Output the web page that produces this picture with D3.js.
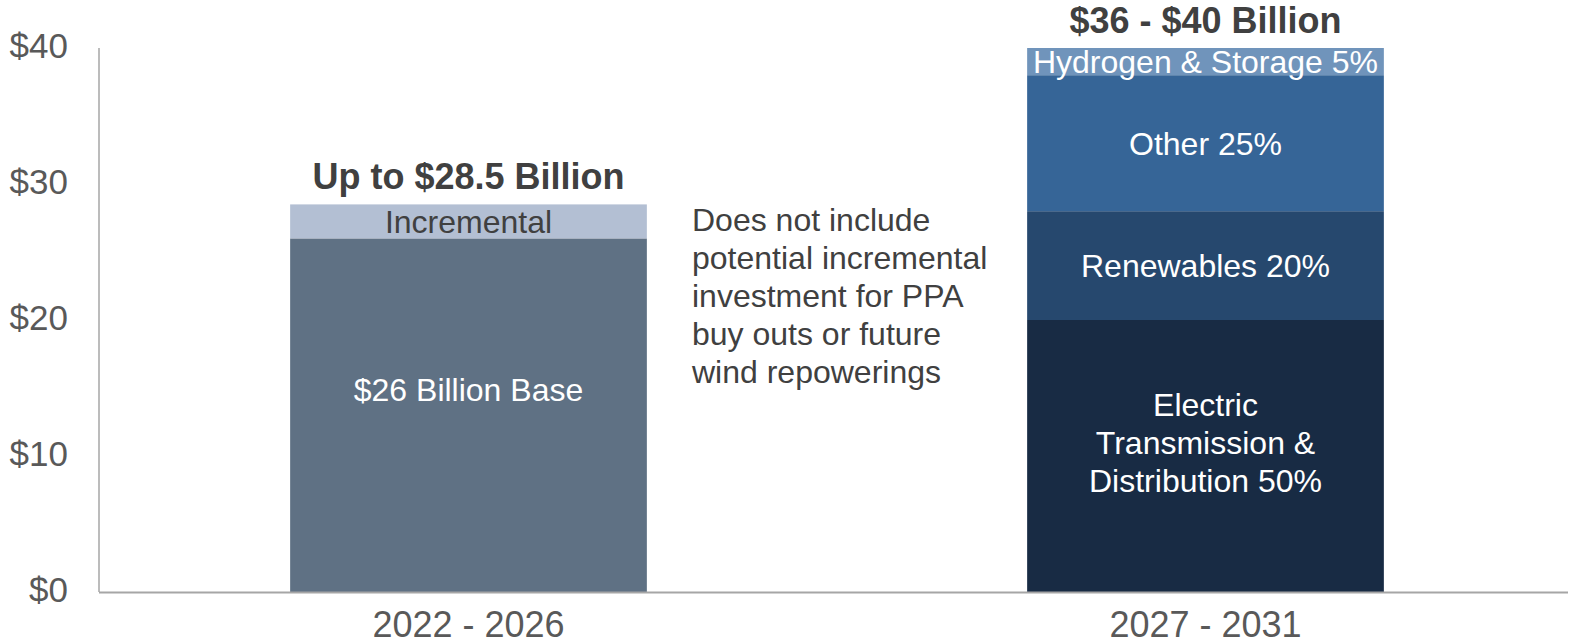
<!DOCTYPE html>
<html>
<head>
<meta charset="utf-8">
<script src="https://cdn.jsdelivr.net/npm/d3@7"></script>
<style>
  html, body { margin: 0; padding: 0; background: #fff; }
  svg { display: block; font-family: "Liberation Sans", Arial, sans-serif; }
</style>
</head>
<body>
<svg id="chart" width="1574" height="644"></svg>
<script>
// Capital plan periods
const categories = ["2022 - 2026", "2027 - 2031"];
const periodTitles = ["Up to $28.5 Billion", "$36 - $40 Billion"];

// 2022 - 2026: base plan plus incremental upside ($ billions)
const earlyBase = 26;
const earlyTotal = 28.5;

// 2027 - 2031: $40 billion upper range split by investment share (%)
const laterTotal = 40;
const laterNames = ["Electric Transmission & Distribution", "Renewables", "Other", "Hydrogen & Storage"];
const laterShares = [50, 20, 25, 5];

// Axis ticks ($ billions)
const yTicks = [0, 10, 20, 30, 40];

const noteLines = [
  "Does not include",
  "potential incremental",
  "investment for PPA",
  "buy outs or future",
  "wind repowerings"
];

// Build stacked segments for each period
const segments = [
  { cat: categories[0], y0: 0, y1: earlyBase, fill: "#5f7184",
    lines: ["$" + earlyBase + " Billion Base"], color: "#ffffff", shift: -26 },
  { cat: categories[0], y0: earlyBase, y1: earlyTotal, fill: "#b3bfd3",
    lines: ["Incremental"], color: "#404040", shift: 0 }
];
const laterFills = ["#182b44", "#26486e", "#366597", "#7094bb"];
const laterLines = [
  ["Electric", "Transmission &", "Distribution 50%"],
  ["Renewables 20%"],
  ["Other 25%"],
  ["Hydrogen & Storage 5%"]
];
let acc = 0;
laterShares.forEach((s, i) => {
  const v = laterTotal * s / 100;
  segments.push({ cat: categories[1], y0: acc, y1: acc + v, fill: laterFills[i],
    lines: laterLines[i], color: "#ffffff", shift: i === 0 ? -14 : 0 });
  acc += v;
});
const periodTops = [earlyTotal, laterTotal];

const svg = d3.select("#chart");

const x = d3.scaleBand()
  .domain(categories)
  .range([100, 1574])
  .paddingInner(0.516)
  .paddingOuter(0.258);

const y = d3.scaleLinear().domain([0, 40]).range([592, 48]);

// Axes
const axisColor = "#a6a6a6";
svg.append("line")
  .attr("x1", 99).attr("x2", 99)
  .attr("y1", y(40)).attr("y2", y(0))
  .attr("stroke", axisColor).attr("stroke-width", 1.5);

const yAxis = d3.axisLeft(y).tickValues(yTicks).tickSize(0).tickPadding(31)
  .tickFormat(d => "$" + d);
const gy = svg.append("g").attr("transform", "translate(99,0)").call(yAxis);
gy.select(".domain").remove();
gy.selectAll("text")
  .attr("font-family", "'Liberation Sans', Arial, sans-serif")
  .attr("font-size", 35)
  .attr("fill", "#595959")
  .attr("dy", "0.28em");

// Bars
svg.append("g").selectAll("rect")
  .data(segments)
  .join("rect")
  .attr("x", d => x(d.cat))
  .attr("width", x.bandwidth())
  .attr("y", d => y(d.y1))
  .attr("height", d => y(d.y0) - y(d.y1))
  .attr("fill", d => d.fill);

// Baseline on top of bars
svg.append("line")
  .attr("x1", 99).attr("x2", 1568)
  .attr("y1", y(0) + 0.5).attr("y2", y(0) + 0.5)
  .attr("stroke", axisColor).attr("stroke-width", 2);

const xAxis = d3.axisBottom(x).tickSize(0).tickPadding(19);
const gx = svg.append("g").attr("transform", `translate(0,${y(0)})`).call(xAxis);
gx.select(".domain").remove();
gx.selectAll("text")
  .attr("font-family", "'Liberation Sans', Arial, sans-serif")
  .attr("font-size", 36)
  .attr("fill", "#595959");

// Segment labels
const fs = 32, lh = 38;
const lbl = svg.append("g").attr("font-size", fs).attr("text-anchor", "middle");
segments.forEach(d => {
  const cx = x(d.cat) + x.bandwidth() / 2;
  const mid = (y(d.y0) + y(d.y1)) / 2 + d.shift;
  const n = d.lines.length;
  const t = lbl.append("text").attr("fill", d.color);
  d.lines.forEach((line, i) => {
    t.append("tspan")
      .attr("x", cx)
      .attr("y", mid + (i - (n - 1) / 2) * lh + fs * 0.36)
      .text(line);
  });
});

// Period totals above each bar
svg.append("g").selectAll("text")
  .data(categories)
  .join("text")
  .attr("x", d => x(d) + x.bandwidth() / 2)
  .attr("y", (d, i) => y(periodTops[i]) - 15)
  .attr("text-anchor", "middle")
  .attr("font-size", 36)
  .attr("font-weight", "bold")
  .attr("fill", "#404040")
  .text((d, i) => periodTitles[i]);

// Side note between the bars
const note = svg.append("text")
  .attr("font-size", 32)
  .attr("fill", "#404040");
noteLines.forEach((line, i) => {
  note.append("tspan").attr("x", 692).attr("y", 231 + i * 38).text(line);
});
</script>
</body>
</html>
